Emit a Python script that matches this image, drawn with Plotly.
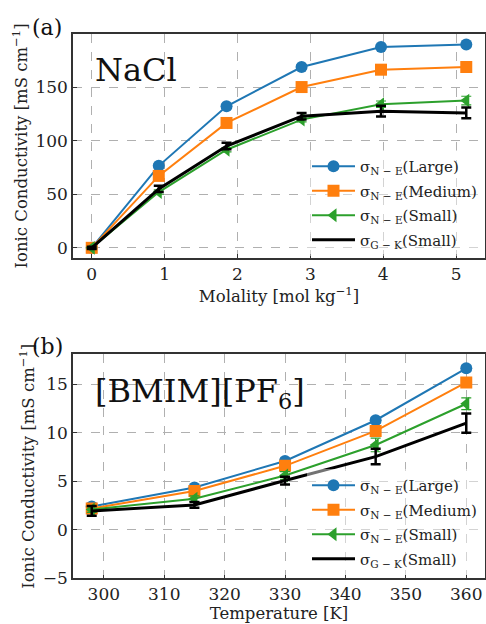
import plotly.graph_objects as go

# ---- data: panel (a) NaCl ----
molality = [0, 0.92, 1.85, 2.88, 3.97, 5.14]
nacl_large = [0, 76.5, 132, 168.7, 187.4, 189.6]
nacl_large_err = [1, 2, 2, 2, 2, 2]
nacl_medium = [0, 67.1, 116.5, 150, 166.2, 168.7]
nacl_medium_err = [1, 2, 2, 2, 2, 2]
nacl_small = [0, 52, 91.5, 119.6, 134, 137.4]
nacl_small_err = [1, 2, 2, 2, 3, 4]
nacl_gk = [0, 55, 95, 122.8, 127.5, 125.9]
nacl_gk_err = [1, 3, 3, 3, 5, 5]

# ---- data: panel (b) [BMIM][PF6] ----
temperature = [298, 315, 330, 345, 360]
il_large = [2.4, 4.36, 7.1, 11.3, 16.65]
il_large_err = [0.2, 0.2, 0.3, 0.3, 0.3]
il_medium = [2.2, 4.0, 6.6, 10.2, 15.2]
il_medium_err = [0.2, 0.3, 0.3, 0.5, 0.4]
il_small = [2.1, 3.2, 5.6, 8.75, 13.0]
il_small_err = [0.3, 0.3, 0.4, 0.7, 0.6]
il_gk = [1.95, 2.57, 5.08, 7.55, 11.0]
il_gk_err = [0.5, 0.3, 0.4, 0.8, 1.0]

labels = ["σ<sub>N − E</sub>(Large)", "σ<sub>N − E</sub>(Medium)",
          "σ<sub>N − E</sub>(Small)", "σ<sub>G − K</sub>(Small)"]
colors = ["#1f77b4", "#ff7f0e", "#2ca02c", "#000000"]
symbols = ["circle", "square", "triangle-left", None]

FONT = "DejaVu Serif"
fig = go.Figure()

def add_series(x, ys, errs, xa, ya, legend, tag):
    for i, (y, e) in enumerate(zip(ys, errs)):
        black = colors[i] == "#000000"
        fig.add_trace(go.Scatter(
            x=x, y=y, name=labels[i], legend=legend, legendgroup=f"{tag}{i}",
            mode="lines" if black else "lines+markers",
            line=dict(color=colors[i], width=3 if black else 2),
            marker=dict(symbol=symbols[i], size=12, color=colors[i]) if not black else None,
            error_y=dict(type="data", array=e, visible=True, color=colors[i],
                         thickness=2.5 if black else 1.2, width=5),
            xaxis=xa, yaxis=ya))

add_series(molality, [nacl_large, nacl_medium, nacl_small, nacl_gk],
           [nacl_large_err, nacl_medium_err, nacl_small_err, nacl_gk_err], "x", "y", "legend", "a")
add_series(temperature, [il_large, il_medium, il_small, il_gk],
           [il_large_err, il_medium_err, il_small_err, il_gk_err], "x2", "y2", "legend2", "b")

axis_common = dict(showline=True, linecolor="#333333", linewidth=1.5, mirror=True,
                   ticks="inside", ticklen=4, tickcolor="#333333", automargin=False,
                   showgrid=True, gridcolor="#b0b0b0", griddash="dash", gridwidth=1,
                   zeroline=False, tickfont=dict(family=FONT, size=17, color="#222"))
title_font = dict(family=FONT, size=16.5, color="#222")

W, H = 486, 624
L, R = 73, 1
PW = W - L - R
fig.update_layout(
    width=W, height=H, margin=dict(l=L, r=R, t=0, b=0, autoexpand=False),
    plot_bgcolor="white", paper_bgcolor="white",
    font=dict(family=FONT, size=15, color="#222"),
    xaxis=dict(domain=[0, 1], anchor="y", range=[-0.257, 5.397], dtick=1,
               title=dict(text="Molality [mol kg<sup>−1</sup>]", standoff=4, font=title_font),
               **axis_common),
    yaxis=dict(domain=[1 - 258 / H, 1 - 34 / H], anchor="x", range=[-9.5, 199.5],
               tickvals=[0, 50, 100, 150],
               title=dict(text="Ionic Conductivity [mS cm<sup>−1</sup>]", standoff=4,
                          font=title_font), **axis_common),
    xaxis2=dict(domain=[0, 1], anchor="y2", range=[294.9, 363.1], dtick=10,
                title=dict(text="Temperature [K]", standoff=4, font=title_font),
                **axis_common),
    yaxis2=dict(domain=[1 - 578.3 / H, 1 - 354.3 / H], anchor="x2", range=[-5, 18.1],
                tickvals=[-5, 0, 5, 10, 15],
                title=dict(text="Ionic Conductivity [mS cm<sup>−1</sup>]", standoff=4,
                           font=title_font), **axis_common),
    legend=dict(x=(307 - L) / PW, y=1 - 150 / H, xanchor="left", yanchor="top",
                bgcolor="rgba(255,255,255,0.45)", font=dict(family=FONT, size=15),
                itemwidth=43, tracegroupgap=2),
    legend2=dict(x=(307 - L) / PW, y=1 - 469 / H, xanchor="left", yanchor="top",
                 bgcolor="rgba(255,255,255,0.45)", font=dict(family=FONT, size=15),
                 itemwidth=43, tracegroupgap=2),
    showlegend=True,
)

def ann(text, px, py, size):
    fig.add_annotation(text=text, x=(px - L) / PW, y=1 - py / H, xref="paper", yref="paper",
                       xanchor="left", yanchor="middle", showarrow=False,
                       font=dict(family=FONT, size=size, color="#111"))

ann("(a)", 30, 28, 22)
ann("(b)", 30, 346, 22)
ann("NaCl", 93, 70, 32)
ann("[BMIM][PF<sub>6</sub>]", 93, 393, 32)

fig.write_html("out.html", config={"displayModeBar": False},
               post_script="document.body.style.margin='0';document.body.style.overflow='hidden';")
